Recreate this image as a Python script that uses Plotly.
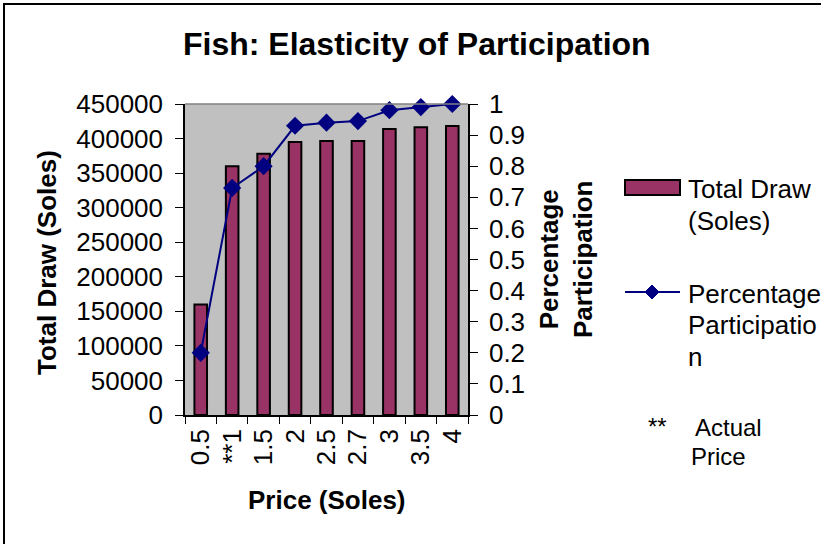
import plotly.graph_objects as go

categories = ["0.5", "**1", "1.5", "2", "2.5", "2.7", "3", "3.5", "4"]
total_draw = [160000, 360000, 378000, 395000, 396500, 396500, 414000, 416500, 418000]
participation = [0.20, 0.73, 0.80, 0.93, 0.94, 0.945, 0.98, 0.99, 1.0]

W, H = 821, 544
L, R, T, B = 185, 468, 104, 415
FONT = "Liberation Sans, Arial, sans-serif"


def fx(px):
    return (px - L) / (R - L)


def fy(py):
    return (B - py) / (B - T)


fig = go.Figure()
fig.add_trace(go.Bar(
    x=categories, y=total_draw, name="Total Draw (Soles)",
    marker=dict(color="#993366", line=dict(color="black", width=2)),
    yaxis="y", showlegend=False,
))
fig.add_trace(go.Scatter(
    x=categories, y=participation, name="Percentage Participation",
    mode="lines+markers",
    line=dict(color="#000080", width=2),
    marker=dict(symbol="diamond", size=14, color="#000080"),
    yaxis="y2", showlegend=False, cliponaxis=False,
))

tick_font = dict(family=FONT, size=26, color="black")

fig.update_layout(
    width=W, height=H,
    margin=dict(l=L, r=W - R, t=T, b=H - B, pad=0),
    paper_bgcolor="white", plot_bgcolor="#C0C0C0",
    bargap=0.6,
    font=dict(family=FONT, color="black"),
    xaxis=dict(
        type="category", tickangle=-90, tickfont=tick_font,
        range=[-0.5, len(categories) - 0.5],
        tickmode="array", tickvals=categories, ticktext=categories,
        showline=True, linecolor="black", linewidth=1.5,
        ticks="outside", ticklen=7, tickcolor="black", tickson="boundaries",
        showgrid=False, zeroline=False, ticklabelstandoff=2,
    ),
    yaxis=dict(
        range=[0, 450000], dtick=50000, tickfont=tick_font,
        showline=True, linecolor="black", linewidth=1.5,
        ticks="outside", ticklen=8, tickcolor="black",
        showgrid=False, zeroline=False, tickformat="d", ticklabelstandoff=7,
    ),
    yaxis2=dict(
        range=[0, 1], dtick=0.1, tickfont=tick_font, overlaying="y", side="right",
        showline=True, linecolor="black", linewidth=1.5,
        ticks="outside", ticklen=8, tickcolor="black",
        showgrid=False, zeroline=False, ticklabelstandoff=6,
    ),
)

shapes = [
    # plot area top border
    dict(type="line", xref="paper", yref="paper", x0=0, x1=1, y0=1, y1=1,
         line=dict(color="#808080", width=1.5)),
    # outer chart frame
    dict(type="rect", xref="paper", yref="paper", x0=fx(4), x1=fx(840), y0=fy(4), y1=fy(560),
         line=dict(color="black", width=2)),
    # legend swatch for bars
    dict(type="rect", xref="paper", yref="paper", x0=fx(625), x1=fx(680), y0=fy(180), y1=fy(195),
         fillcolor="#993366", line=dict(color="black", width=2)),
    # legend line
    dict(type="line", xref="paper", yref="paper", x0=fx(625), x1=fx(680), y0=fy(292), y1=fy(292),
         line=dict(color="#000080", width=2)),
    # legend diamond
    dict(type="path", xref="paper", yref="paper",
         path=f"M {fx(652)},{fy(285)} L {fx(659)},{fy(292)} L {fx(652)},{fy(299)} L {fx(645)},{fy(292)} Z",
         fillcolor="#000080", line=dict(color="#000080", width=1)),
]
fig.update_layout(shapes=shapes)

ann = []
ann.append(dict(text="<b>Fish: Elasticity of Participation</b>", x=fx(417), y=fy(44),
                font=dict(size=32, family=FONT, color="black")))
ann.append(dict(text="<b>Total Draw (Soles)</b>", x=fx(47), y=fy(263), textangle=-90,
                font=dict(size=26, family=FONT, color="black")))
ann.append(dict(text="<b>Percentage<br>Participation</b>", x=fx(566), y=fy(260), textangle=-90,
                font=dict(size=26, family=FONT, color="black")))
ann.append(dict(text="<b>Price (Soles)</b>", x=fx(327), y=fy(500),
                font=dict(size=26, family=FONT, color="black")))
legend_font = dict(size=26, family=FONT, color="black")
small_font = dict(size=24, family=FONT, color="black")
legend_lines = [
    ("Total Draw", 686, 189, legend_font),
    ("(Soles)", 686, 220.5, legend_font),
    ("Percentage", 686, 294, legend_font),
    ("Participatio", 686, 325, legend_font),
    ("n", 686, 357, legend_font),
    ("**", 646, 426, small_font),
    ("Actual", 693, 427.5, small_font),
    ("Price", 689, 456, small_font),
]
for txt, px, py, fnt in legend_lines:
    ann.append(dict(text=txt, x=fx(px), y=fy(py), xanchor="left", font=fnt))
for a in ann:
    a.update(xref="paper", yref="paper", showarrow=False)
    a.setdefault("xanchor", "center")
    a.setdefault("yanchor", "middle")
fig.update_layout(annotations=ann)

fig.write_html("out.html", config={"displayModeBar": False},
               post_script="document.body.style.margin='0';")
